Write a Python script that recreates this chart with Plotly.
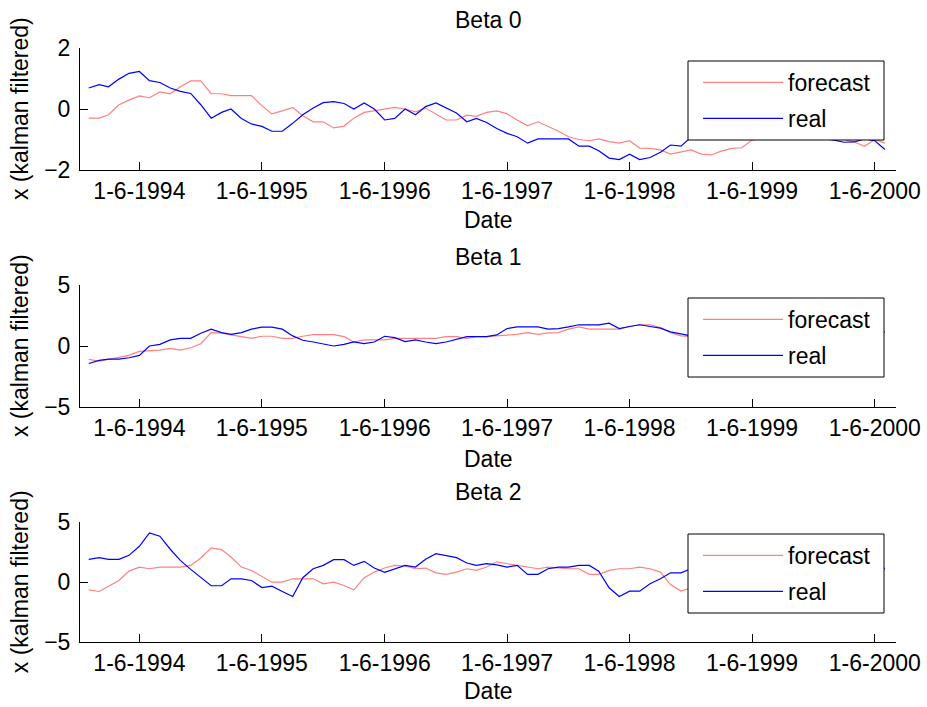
import pandas as pd
import plotly.graph_objects as go

# Monthly observation dates, Jan 1994 .. Jul 2000
dates = pd.date_range("1994-01-01", periods=79, freq="MS")

tick_dates = pd.to_datetime(["1994-06-01", "1995-06-01", "1996-06-01", "1997-06-01",
                             "1998-06-01", "1999-06-01", "2000-06-01"])
tick_text = ["1-6-1994", "1-6-1995", "1-6-1996", "1-6-1997",
             "1-6-1998", "1-6-1999", "1-6-2000"]

beta0_forecast = [-0.30, -0.30, -0.19, 0.14, 0.29, 0.43, 0.37, 0.56, 0.50, 0.73,
                  0.92, 0.92, 0.50, 0.50, 0.44, 0.44, 0.44, 0.11, -0.16, -0.06,
                  0.05, -0.22, -0.42, -0.42, -0.62, -0.56, -0.30, -0.11, -0.06, 0.00,
                  0.05, 0.00, -0.09, 0.03, -0.16, -0.36, -0.36, -0.20, -0.24, -0.11,
                  -0.06, -0.16, -0.36, -0.55, -0.42, -0.57, -0.73, -0.91, -1.00, -1.04,
                  -0.98, -1.07, -1.12, -1.04, -1.28, -1.29, -1.34, -1.48, -1.42, -1.34,
                  -1.48, -1.50, -1.38, -1.29, -1.27, -1.02, -0.95, -0.88, -0.85, -0.90,
                  -0.95, -0.92, -0.98, -1.00, -1.00, -1.08, -1.22, -1.00, -1.12]
beta0_real = [0.69, 0.80, 0.73, 0.98, 1.17, 1.23, 0.93, 0.87, 0.69, 0.58,
              0.51, 0.14, -0.30, -0.11, 0.00, -0.31, -0.49, -0.57, -0.73, -0.73,
              -0.47, -0.19, 0.03, 0.21, 0.24, 0.18, 0.00, 0.20, 0.00, -0.36,
              -0.31, 0.00, -0.19, 0.08, 0.20, 0.05, -0.13, -0.42, -0.31, -0.44,
              -0.64, -0.80, -0.91, -1.12, -0.98, -0.98, -0.98, -0.98, -1.22, -1.22,
              -1.37, -1.61, -1.66, -1.48, -1.66, -1.59, -1.42, -1.18, -1.22, -0.93,
              -0.85, -0.72, -0.60, -0.55, -0.62, -0.70, -0.78, -0.72, -0.80, -0.88,
              -0.85, -0.92, -0.97, -1.02, -1.09, -1.08, -0.98, -1.04, -1.33]

beta1_forecast = [-1.10, -1.24, -1.10, -0.91, -0.77, -0.44, -0.41, -0.33, -0.19, -0.33,
                  -0.14, 0.19, 1.10, 1.05, 0.91, 0.77, 0.63, 0.80, 0.80, 0.63,
                  0.63, 0.80, 0.94, 0.94, 0.94, 0.77, 0.33, 0.50, 0.50, 0.50,
                  0.63, 0.63, 0.63, 0.63, 0.63, 0.77, 0.77, 0.63, 0.77, 0.77,
                  0.83, 0.91, 0.96, 1.10, 0.96, 1.07, 1.10, 1.38, 1.57, 1.38,
                  1.38, 1.38, 1.38, 1.60, 1.74, 1.74, 1.52, 1.10, 0.83, 0.77,
                  0.75, 0.80, 0.85, 0.95, 1.00, 0.95, 0.90, 0.95, 1.05, 1.15,
                  1.10, 1.05, 1.00, 1.05, 1.15, 1.20, 1.15, 1.10, 1.15]
beta1_real = [-1.43, -1.18, -1.07, -1.07, -0.96, -0.77, 0.00, 0.14, 0.50, 0.63,
              0.63, 1.05, 1.38, 1.10, 0.96, 1.10, 1.38, 1.54, 1.54, 1.38,
              0.83, 0.47, 0.33, 0.14, 0.00, 0.14, 0.33, 0.19, 0.33, 0.80,
              0.69, 0.36, 0.50, 0.33, 0.19, 0.33, 0.55, 0.77, 0.77, 0.77,
              0.91, 1.43, 1.57, 1.57, 1.57, 1.38, 1.43, 1.57, 1.74, 1.74,
              1.74, 1.87, 1.43, 1.60, 1.74, 1.60, 1.46, 1.16, 0.96, 0.83,
              0.80, 0.85, 0.95, 1.05, 1.00, 0.90, 0.95, 1.10, 1.20, 1.15,
              1.05, 1.00, 1.10, 1.20, 1.25, 1.15, 1.10, 1.20, 1.15]

beta2_forecast = [-0.64, -0.78, -0.34, 0.14, 0.92, 1.26, 1.12, 1.26, 1.26, 1.26,
                  1.40, 2.02, 2.86, 2.72, 2.10, 1.26, 0.98, 0.48, 0.00, 0.00,
                  0.28, 0.28, 0.28, -0.14, 0.00, -0.28, -0.64, 0.37, 0.84, 1.18,
                  1.40, 1.35, 1.12, 1.18, 0.78, 0.65, 0.84, 1.12, 0.98, 1.26,
                  1.70, 1.54, 1.40, 1.26, 1.12, 1.26, 1.18, 1.12, 1.12, 0.65,
                  0.65, 0.98, 1.12, 1.12, 1.26, 1.12, 0.84, -0.20, -0.75, -0.47,
                  -0.20, 0.10, 0.35, 0.60, 0.75, 0.90, 0.80, 0.70, 0.85, 1.00,
                  1.10, 0.95, 0.85, 0.90, 1.05, 1.15, 1.00, 0.90, 1.00]
beta2_real = [1.91, 2.05, 1.91, 1.91, 2.24, 3.00, 4.12, 3.84, 2.75, 1.82,
              1.07, 0.37, -0.30, -0.30, 0.28, 0.28, 0.14, -0.45, -0.34, -0.78,
              -1.20, 0.37, 1.12, 1.40, 1.88, 1.88, 1.40, 1.74, 1.18, 0.82,
              1.10, 1.40, 1.26, 1.91, 2.38, 2.24, 2.05, 1.60, 1.40, 1.54,
              1.45, 1.26, 1.40, 0.65, 0.65, 1.12, 1.26, 1.26, 1.40, 1.40,
              0.92, -0.47, -1.20, -0.75, -0.75, -0.14, 0.28, 0.78, 0.78, 1.12,
              1.20, 1.30, 1.10, 0.90, 1.00, 1.25, 1.40, 1.30, 1.10, 0.95,
              1.05, 1.20, 1.35, 1.25, 1.05, 0.95, 1.10, 1.25, 1.15]

panel_titles = ["Beta 0", "Beta 1", "Beta 2"]
series = [(beta0_forecast, beta0_real), (beta1_forecast, beta1_real), (beta2_forecast, beta2_real)]
y_ranges = [[-2, 2], [-5, 5], [-5, 5]]
y_ticks = [[-2, 0, 2], [-5, 0, 5], [-5, 0, 5]]

FONT = "Liberation Sans, Arial, Helvetica, sans-serif"
FS = 23
RED = "#ff8080"
BLUE = "#0000ff"

# vertical layout of the three panels (paper fractions)
domains = [[0.7946, 1.0], [0.3956, 0.601], [0.0, 0.2015]]
title_y = [1.047, 0.648, 0.2525]
xlabel_y = [0.7104, 0.308, -0.0825]
# legend frame (paper fractions): top / bottom edge of each box
legend_box = [(0.9781, 0.8451), (0.5791, 0.4461), (0.1818, 0.0488)]
legend_box_x = (0.7451, 0.9853)

fig = go.Figure()
x_start = pd.Timestamp("1993-12-06")
x_end = pd.Timestamp("2000-08-03")

for k, (fc, rl) in enumerate(series):
    sfx = "" if k == 0 else str(k + 1)
    leg = "legend" + sfx
    fig.add_trace(go.Scatter(x=dates, y=fc, mode="lines", name="forecast",
                             line=dict(color=RED, width=1.2), legendgroup="f" + sfx,
                             xaxis="x" + sfx, yaxis="y" + sfx, legend=leg))
    fig.add_trace(go.Scatter(x=dates, y=rl, mode="lines", name="real",
                             line=dict(color=BLUE, width=1.2), legendgroup="r" + sfx,
                             xaxis="x" + sfx, yaxis="y" + sfx, legend=leg))

    axis_common = dict(showline=True, linecolor="black", linewidth=1,
                       ticks="inside", ticklen=8, tickcolor="black", tickwidth=1,
                       showgrid=False, zeroline=False, automargin=False,
                       tickfont=dict(family=FONT, size=FS, color="black"))
    fig.layout["xaxis" + sfx] = dict(
        axis_common, domain=[0, 1], anchor="y" + sfx,
        range=[x_start, x_end], tickmode="array",
        tickvals=tick_dates, ticktext=tick_text)
    fig.layout["yaxis" + sfx] = dict(
        axis_common, domain=domains[k], anchor="x" + sfx,
        range=y_ranges[k], tickmode="array", tickvals=y_ticks[k],
        ticklabelstandoff=4)

    # white framed box behind the legend entries, covering the lines
    top, bottom = legend_box[k]
    fig.add_shape(type="rect", xref="paper", yref="paper",
                  x0=legend_box_x[0], x1=legend_box_x[1], y0=bottom, y1=top,
                  fillcolor="white", line=dict(color="black", width=1), layer="above")

    fig.layout[leg] = dict(
        x=0.7574, xanchor="left", y=top, yanchor="top",
        bgcolor="rgba(0,0,0,0)", borderwidth=0,
        font=dict(family=FONT, size=FS, color="black"),
        itemwidth=80, tracegroupgap=3)

    fig.add_annotation(text=panel_titles[k], x=0.5, y=title_y[k],
                       xref="paper", yref="paper", showarrow=False,
                       xanchor="center", yanchor="middle",
                       font=dict(family=FONT, size=FS, color="black"))
    fig.add_annotation(text="Date", x=0.5, y=xlabel_y[k],
                       xref="paper", yref="paper", showarrow=False,
                       xanchor="center", yanchor="middle",
                       font=dict(family=FONT, size=FS, color="black"))
    fig.add_annotation(text="x (kalman filtered)", x=-0.0735,
                       y=(domains[k][0] + domains[k][1]) / 2,
                       xref="paper", yref="paper", showarrow=False, textangle=-90,
                       xanchor="center", yanchor="middle",
                       font=dict(family=FONT, size=FS, color="black"))

fig.update_layout(
    template="none",
    width=927, height=707,
    margin=dict(l=80, r=31, t=48, b=65, autoexpand=False),
    paper_bgcolor="white", plot_bgcolor="white",
    font=dict(family=FONT, size=FS, color="black"),
)

fig.write_html("out.html")
